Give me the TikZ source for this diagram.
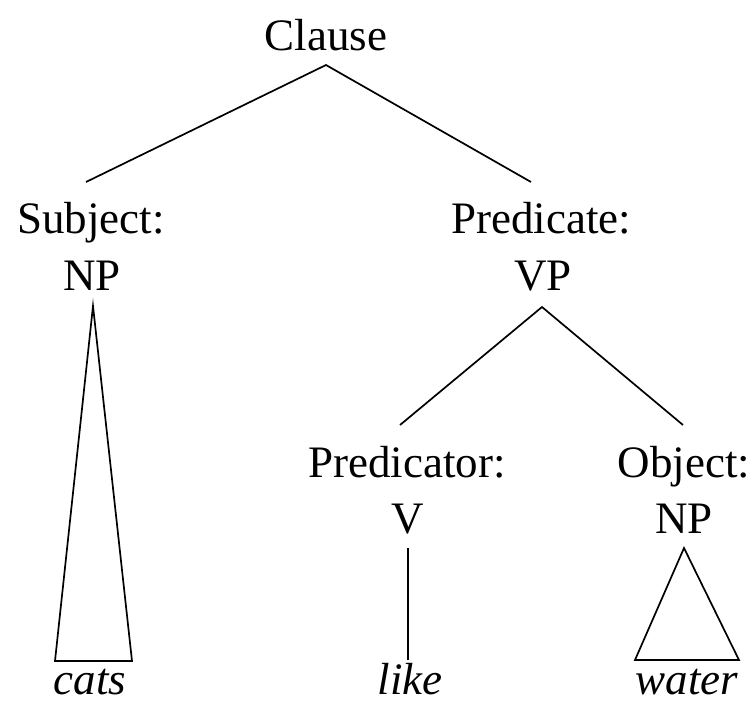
\documentclass[tikz,border=0pt]{standalone}
\usepackage{fontspec}
\setmainfont{Liberation Serif}
\begin{document}
\begin{tikzpicture}[x=1pt,y=-1pt,
  lbl/.style={inner sep=0pt,anchor=base,font=\fontsize{45}{50}\selectfont},
  word/.style={lbl,font=\fontsize{45}{50}\selectfont\itshape},
  edge/.style={line width=1.7pt,line join=miter}]
\useasboundingbox[fill=white] (0,0) rectangle (754,705);
% labels
\node[lbl] (clause) at (326,50) {Clause};
\node[lbl] (subj) at (91,233) {Subject:};
\node[lbl] (np1) at (92,290) {NP};
\node[lbl] (pred) at (541,233) {Predicate:};
\node[lbl] (vp) at (543,290) {VP};
\node[lbl] (predr) at (407,477) {Predicator:};
\node[lbl] (v) at (408,533) {V};
\node[lbl] (obj) at (684,477) {Object:};
\node[lbl] (np2) at (684,533) {NP};
\node[word] (cats) at (90,694) {cats};
\node[word] (like) at (410,694) {like};
\node[word] (water) at (687,694) {water};
% connector points
\coordinate (c0) at (326,65);
\coordinate (s0) at (86,182);
\coordinate (p0) at (531,182);
\coordinate (vp0) at (542,307);
\coordinate (pr0) at (400,425);
\coordinate (ob0) at (683,425);
\coordinate (t1a) at (93,306);
\coordinate (t1l) at (55,661);
\coordinate (t1r) at (132,661);
\coordinate (v0) at (408,548);
\coordinate (v1) at (408,660);
\coordinate (t2a) at (684,548);
\coordinate (t2l) at (635,660);
\coordinate (t2r) at (739,660);
% edges
\draw[edge] (s0) -- (c0) -- (p0);
\draw[edge] (pr0) -- (vp0) -- (ob0);
\draw[edge] (t1a) -- (t1l) -- (t1r) -- cycle;
\draw[edge] (v0) -- (v1);
\draw[edge] (t2a) -- (t2l) -- (t2r) -- cycle;
\end{tikzpicture}
\end{document}
